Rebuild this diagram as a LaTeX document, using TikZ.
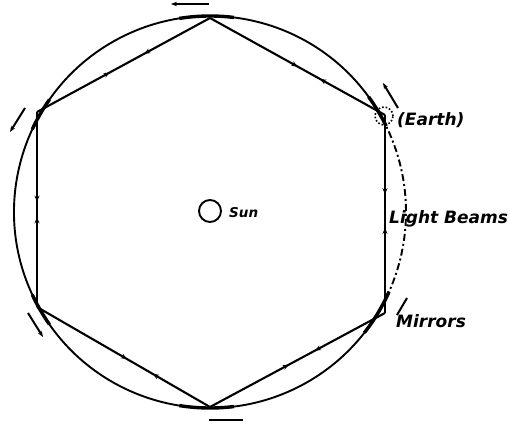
\documentclass[tikz,border=0pt]{standalone}
\usepackage{fontspec}
\setmainfont{DejaVu Sans}
\usetikzlibrary{arrows.meta,decorations.markings}
\begin{document}
\begin{tikzpicture}[x=1pt,y=-1pt,
  hexedge/.style={line width=2.1pt},
  beams/.style 2 args={decoration={markings,
      mark=at position #1 with {\arrow{Stealth[length=6pt,width=5pt]}},
      mark=at position #2 with {\arrowreversed{Stealth[length=6pt,width=5pt]}}},
    postaction={decorate}},
  lbl/.style={font=\fontsize{17}{20}\selectfont\bfseries\itshape, inner sep=0pt, anchor=base west},
  rot/.style={line width=2pt, -{Stealth[length=6pt,width=4.5pt]}},
  mirror/.style={line width=3.4pt},
  orbit/.style={line width=1.9pt}]
\useasboundingbox (0,0) rectangle (511,423);
% centre and hexagon vertices
\coordinate (C) at (210,212);
\coordinate (T) at (210,18);
\coordinate (UR) at (385,115);
\coordinate (LR) at (385,313);
\coordinate (B) at (210,407);
\coordinate (LL) at (37,307);
\coordinate (UL) at (37,112);
% orbit circle (solid part and dash-dot part)
\draw[orbit] (C) ++(-28:196) arc[start angle=-28, end angle=-334, radius=196];
\draw[orbit, dash pattern=on 7pt off 3pt on 2pt off 3pt] (C) ++(26:196) arc[start angle=26, end angle=-28, radius=196];
% mirrors (thick arcs on circle at vertices)
\draw[mirror] (C) ++(-83:196) arc[start angle=-83, end angle=-99, radius=196];
\draw[mirror] (C) ++(83:196) arc[start angle=83, end angle=99, radius=196];
\draw[mirror] (C) ++(-145:196) arc[start angle=-145, end angle=-155, radius=196];
\draw[mirror] (C) ++(145:196) arc[start angle=145, end angle=155, radius=196];
\draw[mirror] (C) ++(24:196) arc[start angle=24, end angle=38, radius=196];
\draw[mirror] (C) ++(-26:196) arc[start angle=-26, end angle=-36, radius=196];
% light beams along hexagon
\draw[hexedge, beams={0.42}{0.62}] (UL) -- (T);
\draw[hexedge, beams={0.50}{0.63}] (T) -- (UR);
\draw[hexedge, beams={0.40}{0.57}] (UR) -- (LR);
\draw[hexedge, beams={0.40}{0.55}] (LR) -- (B);
\draw[hexedge, beams={0.33}{0.48}] (B) -- (LL);
\draw[hexedge, beams={0.46}{0.54}] (LL) -- (UL);
% rotation arrows
\coordinate (r1a) at (209,4);   \coordinate (r1b) at (171,4);
\coordinate (r2a) at (25,108);  \coordinate (r2b) at (10,132);
\coordinate (r3a) at (28,313);  \coordinate (r3b) at (43,337);
\coordinate (r4a) at (209,420); \coordinate (r4b) at (243,420);
\coordinate (r5a) at (397,315); \coordinate (r5b) at (407,298);
\coordinate (r6a) at (398,108); \coordinate (r6b) at (383,83);
\draw[rot] (r1a) -- (r1b);
\draw[rot] (r2a) -- (r2b);
\draw[rot] (r3a) -- (r3b);
\draw[line width=1.5pt] (r4a) -- (r4b);
\draw[line width=2pt] (r5a) -- (r5b);
\draw[rot] (r6a) -- (r6b);
% sun and earth
\node[circle, draw, line width=1.9pt, minimum size=22pt, inner sep=0pt] (sun) at (210,211) {};
\node[circle, draw, dotted, line width=1.6pt, minimum size=18pt, inner sep=0pt] (earth) at (384,116) {};
% labels
\node[lbl, font=\fontsize{13.5}{16}\selectfont\bfseries\itshape] (sunlbl) at (229,217) {Sun};
\node[lbl] (earthlbl) at (397,125) {(Earth)};
\node[lbl] (beamlbl) at (389,223) {Light Beams};
\node[lbl] (mirrlbl) at (396,327) {Mirrors};
\end{tikzpicture}
\end{document}
